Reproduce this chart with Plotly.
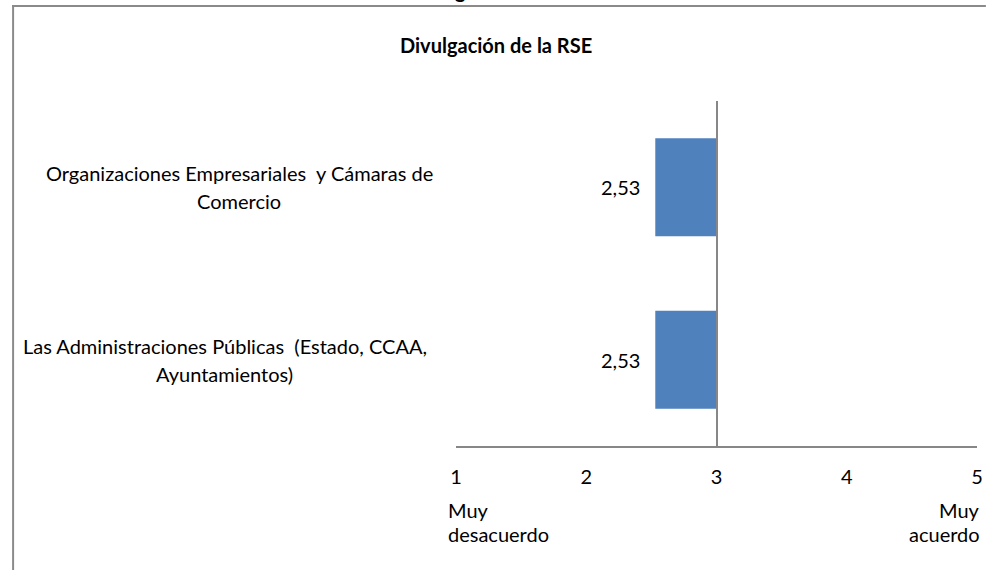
import plotly.graph_objects as go

# Data
categories = [
    "Las Administraciones Públicas (Estado, CCAA, Ayuntamientos)",
    "Organizaciones Empresariales y Cámaras de Comercio",
]
category_lines = [
    ["Las Administraciones Públicas  (Estado, CCAA,", "Ayuntamientos)"],
    ["Organizaciones Empresariales  y Cámaras de", "Comercio"],
]
values = [2.53, 2.53]
scale_ticks = [1, 2, 3, 4, 5]
scale_low_label = ["Muy", "desacuerdo"]
scale_high_label = ["Muy", "acuerdo"]
title_text = "Divulgación de la RSE"
midpoint = 3

# Figure geometry (pixels)
W, H = 992, 570
L, R, T, B = 456, 9, 101, 124
PW, PH = W - L - R, H - T - B


def px_x(p):
    return (p - L) / PW


def px_y(p):
    return (H - B - p) / PH


FONT = "Lato, 'Open Sans', sans-serif"
FS = 20
BAR_COLOR = "#4F81BD"
AXIS_COLOR = "#878787"
FRAME_COLOR = "#8a8a8a"

fig = go.Figure()

fig.add_trace(
    go.Bar(
        y=categories,
        x=[v - midpoint for v in values],
        base=midpoint,
        orientation="h",
        marker=dict(color=BAR_COLOR, line=dict(width=0)),
        hoverinfo="skip",
        showlegend=False,
    )
)

annotations = []

# Value labels left of each bar
for cat, v in zip(categories, values):
    annotations.append(
        dict(
            x=v, y=cat, xref="x", yref="y",
            text=f"{v:.2f}".replace(".", ","),
            showarrow=False, xanchor="right", yanchor="middle",
            xshift=-13, font=dict(family=FONT, size=FS, color="#000"),
        )
    )

# Category labels, centred and wrapped on two lines
label_centers = [222, 237]
for i, lines in enumerate(category_lines):
    for j, line in enumerate(lines):
        annotations.append(
            dict(
                x=px_x(label_centers[i]), y=i, xref="paper", yref="y",
                text=line, showarrow=False, xanchor="center", yanchor="middle",
                yshift=14 - 28 * j,
                font=dict(family=FONT, size=FS, color="#000"),
            )
        )

# Scale end descriptions
for j, line in enumerate(scale_low_label):
    annotations.append(
        dict(
            x=px_x(446), y=px_y(510 + 24 * j), xref="paper", yref="paper",
            text=line, showarrow=False, xanchor="left", yanchor="middle",
            font=dict(family=FONT, size=FS, color="#000"),
        )
    )
for j, line in enumerate(scale_high_label):
    annotations.append(
        dict(
            x=px_x(988), y=px_y(510 + 24 * j), xref="paper", yref="paper",
            text=line, showarrow=False, xanchor="right", yanchor="middle",
            font=dict(family=FONT, size=FS, color="#000"),
        )
    )

# Chart title
annotations.append(
    dict(
        x=px_x(496), y=px_y(45), xref="paper", yref="paper",
        text=f"<b>{title_text}</b>", showarrow=False,
        xanchor="center", yanchor="middle",
        font=dict(family=FONT, size=FS, color="#000"),
    )
)

# Descender of the document heading that sits above the chart frame
annotations.append(
    dict(
        x=px_x(461), y=px_y(-10), xref="paper", yref="paper",
        text="<b>g</b>", showarrow=False, xanchor="center", yanchor="middle",
        font=dict(family=FONT, size=FS, color="#000"),
    )
)

# Chart frame: left and top edges as thin filled strips
frame = [
    dict(type="rect", xref="paper", yref="paper",
         x0=px_x(7), x1=px_x(9), y0=px_y(5), y1=px_y(H),
         fillcolor=FRAME_COLOR, line=dict(width=0), layer="above"),
    dict(type="rect", xref="paper", yref="paper",
         x0=px_x(7), x1=px_x(W), y0=px_y(5), y1=px_y(7),
         fillcolor=FRAME_COLOR, line=dict(width=0), layer="above"),
]

fig.update_layout(
    width=W, height=H,
    margin=dict(l=L, r=R, t=T, b=B, pad=0),
    paper_bgcolor="white",
    plot_bgcolor="white",
    bargap=0.432,
    annotations=annotations,
    shapes=frame,
    xaxis=dict(
        range=[1, 5], tickvals=scale_ticks, ticktext=[str(t) for t in scale_ticks],
        showgrid=False, zeroline=False, ticks="",
        showline=True, linecolor=AXIS_COLOR, linewidth=2,
        tickfont=dict(family=FONT, size=FS, color="#000"),
        ticklabelstandoff=12, fixedrange=True,
    ),
    yaxis=dict(
        type="category", categoryorder="array", categoryarray=categories,
        range=[-0.5, 1.5], showgrid=False, zeroline=False,
        showticklabels=False, ticks="",
        showline=True, linecolor=AXIS_COLOR, linewidth=2,
        anchor="free", position=(midpoint - 1) / 4, fixedrange=True,
    ),
)

fig.write_html("out.html")
